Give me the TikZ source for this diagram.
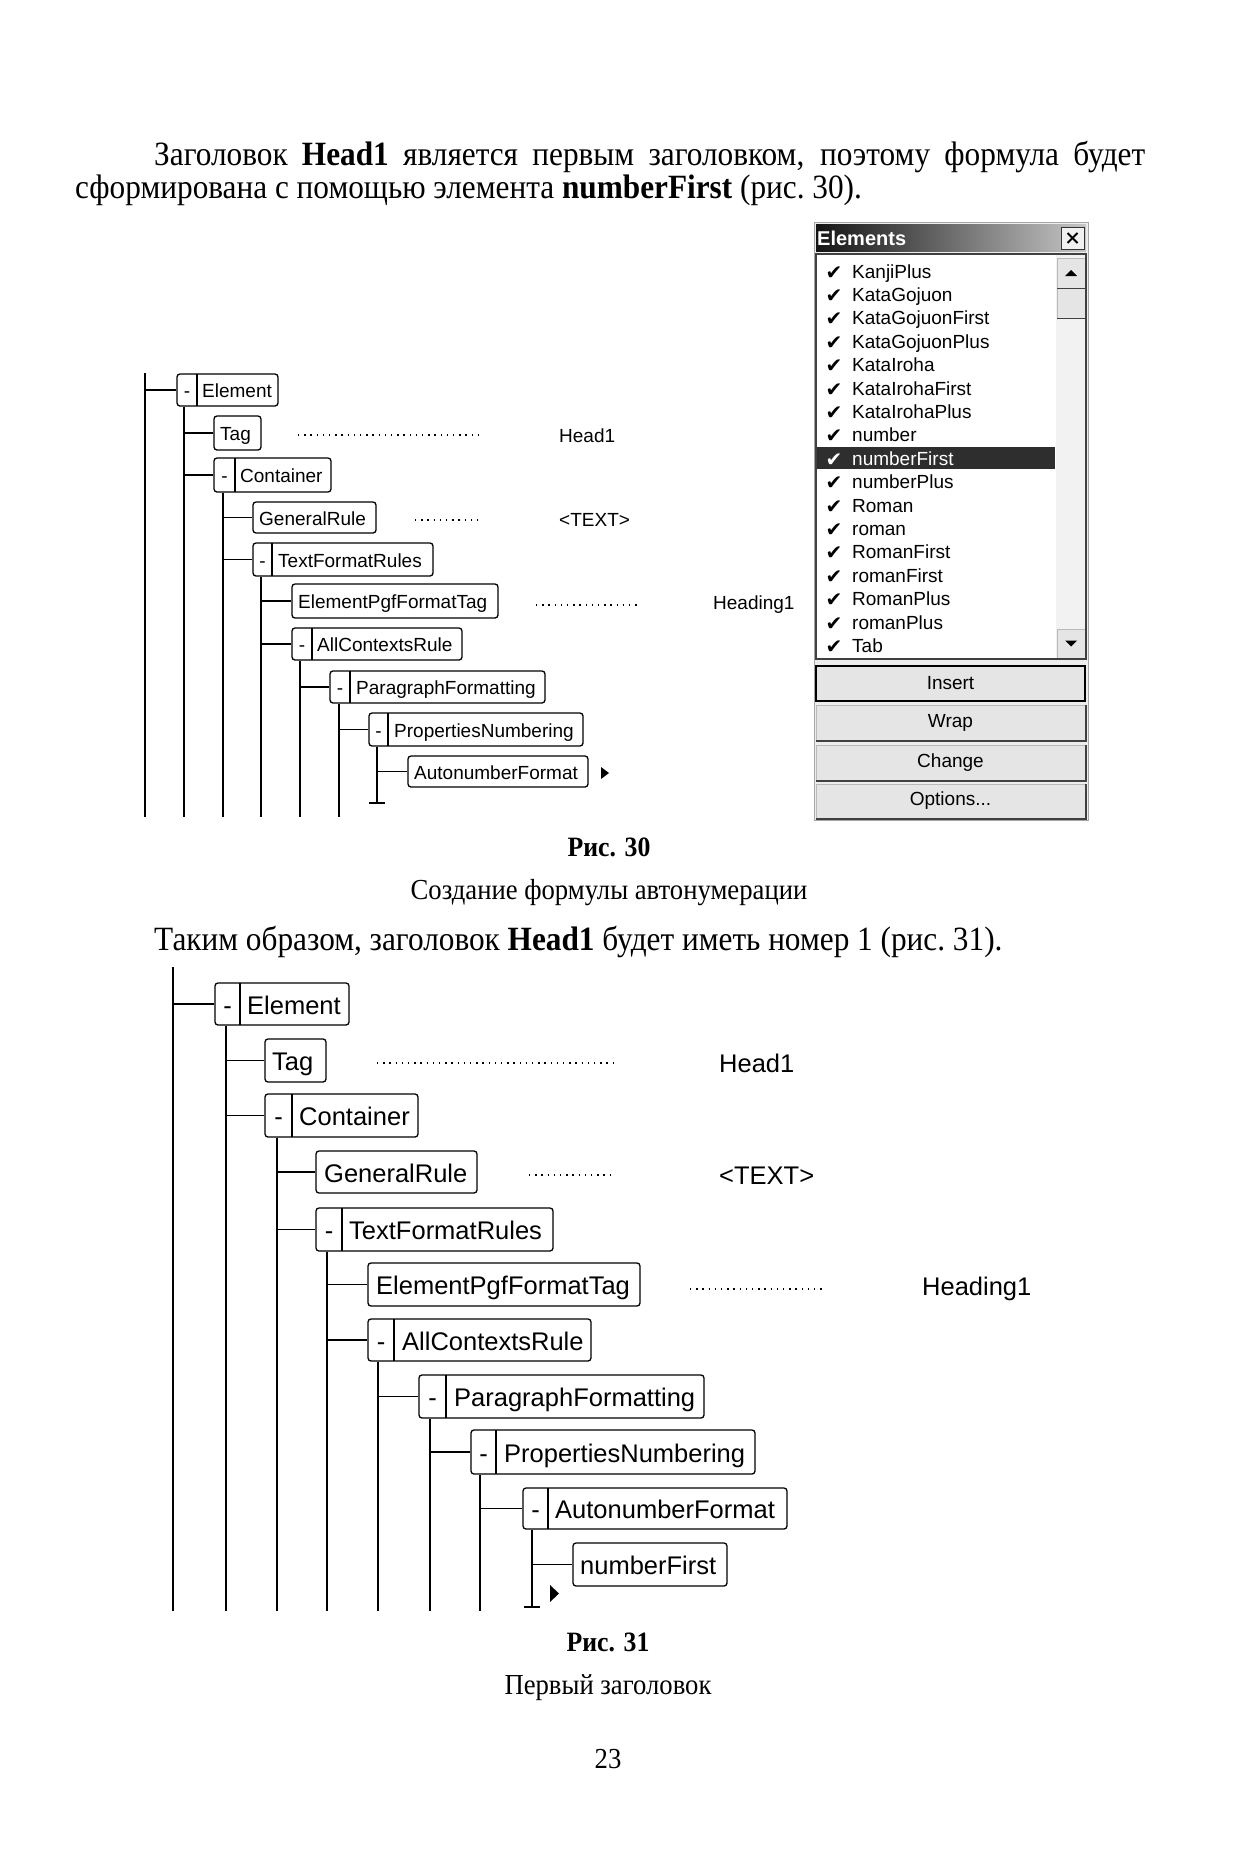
\documentclass[tikz,border=0pt]{standalone}
\usepackage{fontspec}
\setmainfont[FakeStretch=0.92]{Liberation Serif}
\newfontfamily\tfont{Liberation Sans}
\newfontfamily\dvfont{DejaVu Sans}
\usetikzlibrary{fit,calc}

\newcommand\tb[7]{%
  \node[box, fit={(#2,#3) (#4,#5)}] (#1) {};
  \node[lbl, anchor=base west] (#1-t) at (#6, {(#3+#5)/2+\boff}) {#7};
}
\newcommand\tm[5]{%
  \draw[boxln] (#3,#4) -- (#3,#5);
  \node[lbl, anchor=base] (#1-m) at ({(#2+#3)/2}, {(#4+#5)/2+\boff}) {-};
}

\begin{document}
\begin{tikzpicture}[x=1pt,y=-1pt,
  box/.style={draw, line width=1.3pt, rounded corners=3pt, inner sep=0pt},
  boxln/.style={line width=1.3pt},
  lnk/.style={line width=1.3pt},
  dots/.style={line width=1.5pt, dash pattern=on 1.4pt off 4.8pt},
  body/.style={font=\fontsize{34}{40}\selectfont, inner sep=0pt},
  captxt/.style={font=\fontsize{29}{33}\selectfont, inner sep=0pt, anchor=base},
  capbold/.style={font=\bfseries\fontsize{28}{32}\selectfont, inner sep=0pt, anchor=base},
  item/.style={font=\tfont\fontsize{19}{21}\selectfont, inner sep=0pt, anchor=base west},
  chk/.style={font=\dvfont\fontsize{20}{22}\selectfont, inner sep=0pt, anchor=base},
  btn/.style={fill=gray!20, draw=gray!55, line width=1pt, inner sep=0pt},
  btnlbl/.style={font=\tfont\fontsize{19}{21}\selectfont, inner sep=0pt},
]
\useasboundingbox (0,0) rectangle (1243,1855);
\fill[white] (0,0) rectangle (1243,1855);

% ---------- body text ----------
\node[body, anchor=base west] (p1) at (154,165) {\makebox[991pt][s]{Заголовок \textbf{Head1} является первым заголовком, поэтому формула будет}};
\node[body, anchor=base west] (p2) at (75,198) {сформирована с помощью элемента \textbf{numberFirst} (рис.~30).};
\node[capbold] (c30) at (609,856) {Рис. 30};
\node[captxt] (c30t) at (609,899) {Создание формулы автонумерации};
\node[body, anchor=base west] (p3) at (154,950) {Таким образом, заголовок \textbf{Head1} будет иметь номер 1 (рис.~31).};
\node[capbold] (c31) at (608,1651) {Рис. 31};
\node[captxt] (c31t) at (608,1694) {Первый заголовок};
\node[captxt] (pg) at (608,1768) {23};

% ---------- Fig 30 tree ----------
\begin{scope}[lbl/.style={font=\tfont\fontsize{19}{21}\selectfont, inner sep=0pt}]
\def\boff{7.5}
\tb{a-el}{177}{374}{278}{406}{202}{Element}       \tm{a-el}{177}{197}{374}{406}
\tb{a-tag}{214}{416}{261}{450}{220}{Tag}
\tb{a-con}{214}{458}{331}{492}{240}{Container}    \tm{a-con}{214}{235}{458}{492}
\tb{a-gr}{253}{502}{376}{533}{259}{GeneralRule}
\tb{a-tfr}{253}{543}{433}{576}{278}{TextFormatRules} \tm{a-tfr}{253}{272}{543}{576}
\tb{a-epft}{292}{584}{498}{618}{298}{ElementPgfFormatTag}
\tb{a-acr}{292}{628}{462}{660}{317}{AllContextsRule} \tm{a-acr}{292}{312}{628}{660}
\tb{a-pf}{330}{671}{545}{703}{356}{ParagraphFormatting} \tm{a-pf}{330}{350}{671}{703}
\tb{a-pn}{369}{713}{583}{746}{394}{PropertiesNumbering} \tm{a-pn}{369}{388}{713}{746}
\tb{a-af}{408}{756}{588}{787}{414}{AutonumberFormat}

\node[lbl, anchor=west] (a-h1) at (559,436) {Head1};
\node[lbl, anchor=west] (a-tx) at (559,520) {<TEXT>};
\node[lbl, anchor=west] (a-hd) at (713,605) {Heading1};
\draw[dots] (298,435) -- (480,435);
\draw[dots] (415,520) -- (480,520);
\draw[dots] (536,605) -- (637,605);

\coordinate (a-v1t) at (145,373); \coordinate (a-v1) at (145,817);
\coordinate (a-v2) at (184,817);
\coordinate (a-v3) at (223,817);
\coordinate (a-v4) at (261,817);
\coordinate (a-v5) at (300,817);
\coordinate (a-v6) at (339,817);
\coordinate (a-v7) at (377,803);
\draw[lnk] (a-v1t) -- (a-v1);
\draw[lnk] (a-el.west -| a-v1) -- (a-el.west);
\draw[lnk] (a-el.south -| a-v2) -- (a-v2);
\draw[lnk] (a-tag.west -| a-v2) -- (a-tag.west);
\draw[lnk] (a-con.west -| a-v2) -- (a-con.west);
\draw[lnk] (a-con.south -| a-v3) -- (a-v3);
\draw[lnk] (a-gr.west -| a-v3) -- (a-gr.west);
\draw[lnk] (a-tfr.west -| a-v3) -- (a-tfr.west);
\draw[lnk] (a-tfr.south -| a-v4) -- (a-v4);
\draw[lnk] (a-epft.west -| a-v4) -- (a-epft.west);
\draw[lnk] (a-acr.west -| a-v4) -- (a-acr.west);
\draw[lnk] (a-acr.south -| a-v5) -- (a-v5);
\draw[lnk] (a-pf.west -| a-v5) -- (a-pf.west);
\draw[lnk] (a-pf.south -| a-v6) -- (a-v6);
\draw[lnk] (a-pn.west -| a-v6) -- (a-pn.west);
\draw[lnk] (a-pn.south -| a-v7) -- (a-v7);
\draw[lnk] (a-af.west -| a-v7) -- (a-af.west);
\draw[lnk] ($(a-v7)+(-8,0)$) -- ($(a-v7)+(8,0)$);
\fill (601,767) -- (609,773) -- (601,779) -- cycle;
\end{scope}

% ---------- Fig 31 tree ----------
\begin{scope}[lbl/.style={font=\tfont\fontsize{25.5}{27}\selectfont, inner sep=0pt}]
\def\boff{10}
\tb{b-el}{215}{983}{349}{1025}{247}{Element}        \tm{b-el}{215}{240}{983}{1025}
\tb{b-tag}{265}{1039}{326}{1082}{272}{Tag}
\tb{b-con}{265}{1094}{418}{1137}{299}{Container}    \tm{b-con}{265}{292}{1094}{1137}
\tb{b-gr}{316}{1151}{477}{1193}{324}{GeneralRule}
\tb{b-tfr}{316}{1208}{553}{1251}{349}{TextFormatRules} \tm{b-tfr}{316}{342}{1208}{1251}
\tb{b-epft}{368}{1263}{640}{1306}{376}{ElementPgfFormatTag}
\tb{b-acr}{368}{1319}{591}{1361}{402}{AllContextsRule} \tm{b-acr}{368}{394}{1319}{1361}
\tb{b-pf}{419}{1375}{704}{1418}{454}{ParagraphFormatting} \tm{b-pf}{419}{446}{1375}{1418}
\tb{b-pn}{471}{1430}{755}{1474}{504}{PropertiesNumbering} \tm{b-pn}{471}{496}{1430}{1474}
\tb{b-af}{523}{1488}{787}{1529}{555}{AutonumberFormat} \tm{b-af}{523}{548}{1488}{1529}
\tb{b-nf}{573}{1543}{727}{1586}{580}{numberFirst}

\node[lbl, anchor=west] (b-h1) at (719,1063) {Head1};
\node[lbl, anchor=west] (b-tx) at (719,1176) {<TEXT>};
\node[lbl, anchor=west] (b-hd) at (922,1289) {Heading1};
\draw[dots] (377,1063) -- (617,1063);
\draw[dots] (529,1175) -- (615,1175);
\draw[dots] (690,1289) -- (824,1289);

\coordinate (b-v1t) at (173,967); \coordinate (b-v1) at (173,1611);
\coordinate (b-v2) at (226,1611);
\coordinate (b-v3) at (277,1611);
\coordinate (b-v4) at (327,1611);
\coordinate (b-v5) at (378,1611);
\coordinate (b-v6) at (430,1611);
\coordinate (b-v7) at (480,1611);
\coordinate (b-v8) at (532,1607);
\draw[lnk] (b-v1t) -- (b-v1);
\draw[lnk] (b-el.west -| b-v1) -- (b-el.west);
\draw[lnk] (b-el.south -| b-v2) -- (b-v2);
\draw[lnk] (b-tag.west -| b-v2) -- (b-tag.west);
\draw[lnk] (b-con.west -| b-v2) -- (b-con.west);
\draw[lnk] (b-con.south -| b-v3) -- (b-v3);
\draw[lnk] (b-gr.west -| b-v3) -- (b-gr.west);
\draw[lnk] (b-tfr.west -| b-v3) -- (b-tfr.west);
\draw[lnk] (b-tfr.south -| b-v4) -- (b-v4);
\draw[lnk] (b-epft.west -| b-v4) -- (b-epft.west);
\draw[lnk] (b-acr.west -| b-v4) -- (b-acr.west);
\draw[lnk] (b-acr.south -| b-v5) -- (b-v5);
\draw[lnk] (b-pf.west -| b-v5) -- (b-pf.west);
\draw[lnk] (b-pf.south -| b-v6) -- (b-v6);
\draw[lnk] (b-pn.west -| b-v6) -- (b-pn.west);
\draw[lnk] (b-pn.south -| b-v7) -- (b-v7);
\draw[lnk] (b-af.west -| b-v7) -- (b-af.west);
\draw[lnk] (b-af.south -| b-v8) -- (b-v8);
\draw[lnk] (b-nf.west -| b-v8) -- (b-nf.west);
\draw[lnk] ($(b-v8)+(-8,0)$) -- ($(b-v8)+(8,0)$);
\fill (550,1585) -- (559,1593.5) -- (550,1602) -- cycle;
\end{scope}

% ---------- Elements panel ----------
\node[fill=gray!14, draw=gray!70, line width=1pt, fit={(814,222) (1088,820)}, inner sep=0pt] (panel) {};
\node[fit={(816,224) (1086,251)}, inner sep=0pt, left color=black!92, right color=gray!45] (title) {};
\node[anchor=west, font=\tfont\bfseries\fontsize{20}{22}\selectfont, text=white, inner sep=0pt] (titletxt) at (817,238) {Elements};
\node[draw=black!80, fill=gray!12, line width=1pt, fit={(1061,227) (1084,249)}, inner sep=0pt] (close) {};
\draw[line width=2pt] ($(close.center)+(-5,-5)$) -- ($(close.center)+(5,5)$);
\draw[line width=2pt] ($(close.center)+(-5,5)$) -- ($(close.center)+(5,-5)$);

\node[fill=white, draw=black!75, line width=1.2pt, fit={(816,254) (1086,659)}, inner sep=0pt] (list) {};
\node[fill=black!82, fit={(817,447) (1055,469)}, inner sep=0pt] (hl) {};
\foreach \t [count=\i from 0] in {KanjiPlus,KataGojuon,KataGojuonFirst,KataGojuonPlus,KataIroha,KataIrohaFirst,KataIrohaPlus,number,numberFirst,numberPlus,Roman,roman,RomanFirst,romanFirst,RomanPlus,romanPlus,Tab}{
  \ifnum\i=8
    \node[item, text=white] (it\i) at (852,{278+23.4*\i}) {\t};
    \node[chk, text=white] (ck\i) at (834,{279+23.4*\i}) {✔};
  \else
    \node[item] (it\i) at (852,{278+23.4*\i}) {\t};
    \node[chk] (ck\i) at (834,{279+23.4*\i}) {✔};
  \fi
}
% scrollbar
\node[fill=gray!10, fit={(1056,255) (1085,658)}, inner sep=0pt] (track) {};
\node[btn, fit={(1057,258) (1085,288)}] (up) {};
\node[btn, fit={(1057,288) (1085,318)}] (thumb) {};
\node[btn, fit={(1057,629) (1085,658)}] (down) {};
\draw[line width=1.5pt, black!75] (up.north east) -- (up.south east) -- (up.south west);
\draw[line width=1.5pt, black!75] (thumb.north east) -- (thumb.south east) -- (thumb.south west);
\draw[line width=1.5pt, black!75] (down.north east) -- (down.south east) -- (down.south west);
\fill ($(up.center)+(-6,3)$) -- ($(up.center)+(6,3)$) -- ($(up.center)+(0,-3)$) -- cycle;
\fill ($(down.center)+(-6,-3)$) -- ($(down.center)+(6,-3)$) -- ($(down.center)+(0,3)$) -- cycle;

% buttons
\node[btn, fit={(816,666) (1085,701)}, draw=black, line width=2.2pt] (ins) {};
\node[btn, fit={(816,705) (1085,740)}] (wrap) {};
\node[btn, fit={(816,745) (1085,780)}] (chg) {};
\node[btn, fit={(816,784) (1085,818)}] (opt) {};
\foreach \b in {wrap,chg,opt}{
  \draw[line width=2pt, black!75] (\b.north east) -- (\b.south east) -- (\b.south west);
}
\node[btnlbl] (ins-t) at (ins.center) {Insert};
\node[btnlbl] (wrap-t) at (wrap.center) {Wrap};
\node[btnlbl] (chg-t) at (chg.center) {Change};
\node[btnlbl] (opt-t) at (opt.center) {Options...};
\end{tikzpicture}
\end{document}
